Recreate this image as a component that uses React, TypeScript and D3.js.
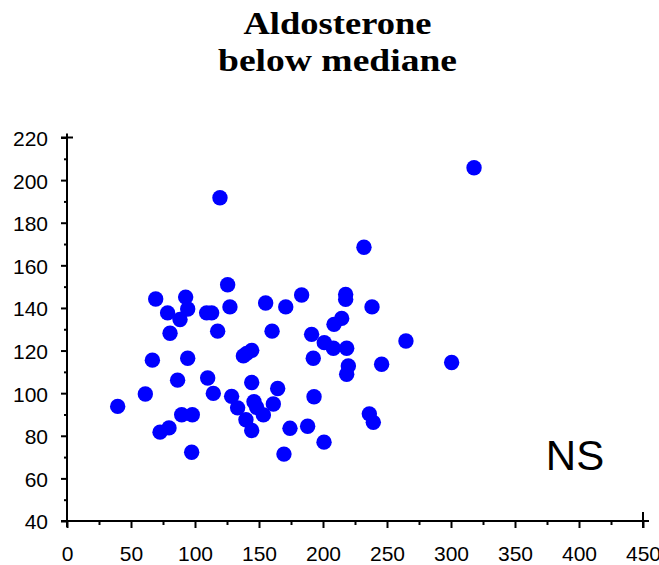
import React, { useEffect, useRef } from "react";
import * as d3 from "d3";

// x values (independent variable) and aldosterone values
const xVals = [
  119.5, 69.3, 78.6, 92.7, 94.3, 88.3, 109.1, 113, 125.5, 127.3, 155.2, 170.9, 183.3,
  217.7, 217.7, 214.6, 208.6, 232, 318, 238.3, 80.5, 117.7, 160.2, 191.1, 201, 208.1,
  218.5, 219.8, 218.5, 192.4, 66.7, 94.3, 137.8, 140.4, 144.3, 86.4, 109.9, 144.3,
  61.2, 114.3, 128.6, 164.6, 193, 39.6, 133.3, 146.1, 148.2, 153.4, 161.2, 89.6, 97.9,
  139.8, 144.3, 72.7, 79.7, 174.2, 188, 200.8, 97.4, 169.5, 264.8, 245.8, 300.5,
  236.2, 239.3,
];
const aldoVals = [
  191.7, 144.2, 137.7, 145.1, 139.5, 134.6, 137.7, 137.7, 150.9, 140.5, 142.3, 140.5,
  146.1, 146.3, 144, 135.1, 132.3, 168.5, 205.8, 140.5, 128.1, 129.1, 129.1, 127.6,
  123.7, 121.1, 121.1, 112.8, 108.9, 116.4, 115.5, 116.4, 117.5, 118.7, 120.1, 106.1,
  107.1, 105, 99.6, 99.9, 98.5, 102.2, 98.3, 93.8, 93.1, 96, 93.3, 89.8, 94.9, 89.9,
  89.9, 87.5, 82.5, 81.7, 83.7, 83.5, 84.5, 77, 72.3, 71.4, 124.5, 113.6, 114.4, 90.3,
  86.3,
];

const xTicks = [0, 50, 100, 150, 200, 250, 300, 350, 400, 450];
const xMinor = [25, 75, 125, 175, 225, 275, 325, 375, 425];
const yTicks = [40, 60, 80, 100, 120, 140, 160, 180, 200, 220];
const yMinor = [50, 70, 90, 110, 130, 150, 170, 190, 210];

const titleLines = ["Aldosterone", "below mediane"];
const note = "NS";

const W = 659, H = 565;

export default function App() {
  const ref = useRef<SVGSVGElement>(null);

  useEffect(() => {
    const svg = d3.select(ref.current);
    svg.selectAll("*").remove();

    const x = d3.scaleLinear().domain([0, 450]).range([67, 643]);
    const y = d3.scaleLinear().domain([40, 220]).range([521, 137.5]);
    const x0 = x(0), y0 = y(40);
    const sans = "'Liberation Sans', Arial, sans-serif";

    // title
    svg.append("g")
      .selectAll("text")
      .data(titleLines)
      .join("text")
      .attr("x", 337.5)
      .attr("y", (d, i) => 34 + i * 37)
      .attr("text-anchor", "middle")
      .attr("font-family", "'Liberation Serif', 'Times New Roman', serif")
      .attr("font-weight", "bold")
      .attr("font-size", 31)
      .attr("textLength", (d, i) => (i === 0 ? 188 : 239))
      .attr("lengthAdjust", "spacingAndGlyphs")
      .text((d) => d);

    // x axis
    const gx = svg.append("g").attr("transform", `translate(0,${y0})`);
    gx.call(d3.axisBottom(x).tickValues(xTicks).tickSize(7).tickPadding(18).tickFormat(d3.format("d")));
    gx.append("g").call(d3.axisBottom(x).tickValues(xMinor).tickSize(4).tickFormat(() => ""));
    gx.selectAll(".domain").remove();
    gx.selectAll("line").attr("stroke", "#000").attr("stroke-width", 2);
    gx.selectAll("text").attr("font-family", sans).attr("font-size", 21).attr("fill", "#000");

    // y axis
    const gy = svg.append("g").attr("transform", `translate(${x0},0)`);
    gy.call(d3.axisLeft(y).tickValues(yTicks).tickSize(6).tickPadding(13).tickFormat(d3.format("d")));
    gy.append("g").call(d3.axisLeft(y).tickValues(yMinor).tickSize(3).tickFormat(() => ""));
    gy.selectAll(".domain").remove();
    gy.selectAll("line").attr("stroke", "#000").attr("stroke-width", 2);
    gy.selectAll("text")
      .attr("font-family", sans)
      .attr("font-size", 21)
      .attr("fill", "#000")
      .attr("dy", "0.38em");

    // axis lines with crossed ends
    const axes = svg.append("g").attr("stroke", "#000").attr("stroke-width", 2);
    axes.append("line").attr("x1", x0 - 6).attr("x2", x(450) + 6).attr("y1", y0).attr("y2", y0);
    axes.append("line").attr("x1", x0).attr("x2", x0).attr("y1", y0 + 6).attr("y2", y(220) - 4);
    axes.append("line").attr("x1", x(450)).attr("x2", x(450)).attr("y1", y0 - 9).attr("y2", y0 + 7);
    axes.append("line").attr("x1", x0 - 6).attr("x2", x0 + 6).attr("y1", y(220)).attr("y2", y(220));

    // points
    svg.append("g")
      .selectAll("circle")
      .data(xVals.map((v, i) => [v, aldoVals[i]]))
      .join("circle")
      .attr("cx", (d) => x(d[0]))
      .attr("cy", (d) => y(d[1]))
      .attr("r", 7.7)
      .attr("fill", "#0000ff");

    svg.append("text")
      .attr("x", 575)
      .attr("y", 470)
      .attr("text-anchor", "middle")
      .attr("font-family", sans)
      .attr("font-size", 42)
      .attr("fill", "#000")
      .text(note);
  }, []);

  return (
    <svg
      ref={ref}
      width={W}
      height={H}
      style={{ position: "absolute", left: 0, top: 0, background: "#fff" }}
    />
  );
}
